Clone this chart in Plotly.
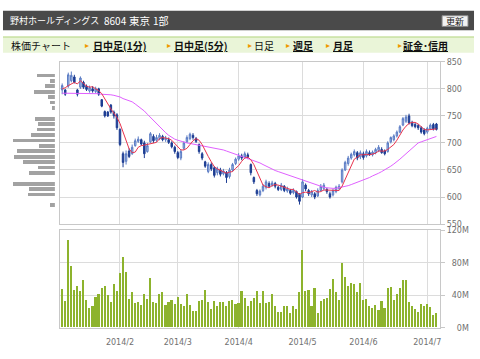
import plotly.graph_objects as go
import pandas as pd

# ---------------- data ----------------
holidays = ["2014-01-13", "2014-02-11", "2014-03-21", "2014-04-29", "2014-05-05", "2014-05-06"]
dates = [d.strftime("%Y-%m-%d") for d in pd.bdate_range("2014-01-06", "2014-07-04")
         if d.strftime("%Y-%m-%d") not in holidays]

opens = [798, 798, 805, 815, 822, 798, 803, 812, 805, 796,
         800, 795, 800, 780, 758, 757, 770, 757, 752, 725,
         680, 666, 685, 680, 695, 703, 706, 700, 684, 702,
         712, 705, 708, 712, 706, 706, 700, 692, 682, 672,
         690, 702, 708, 714, 708, 697, 680, 665, 647, 660,
         654, 645, 650, 643, 645, 638, 650, 662, 670, 676,
         674, 678, 660, 636, 612, 604, 612, 618, 625, 622,
         625, 618, 614, 620, 611, 612, 608, 610, 605, 600,
         622, 612, 604, 606, 602, 612, 616, 614, 606, 604,
         610, 616, 628, 650, 662, 672, 678, 682, 674, 680,
         676, 682, 678, 682, 686, 688, 685, 684, 702, 706,
         713, 720, 733, 740, 750, 738, 734, 732, 728, 724,
         720, 726, 734, 735]
highs = [810, 800, 830, 832, 826, 800, 823, 815, 808, 806,
         805, 804, 802, 781, 760, 759, 772, 760, 755, 727,
         684, 686, 690, 697, 708, 712, 708, 704, 700, 720,
         716, 715, 718, 715, 713, 710, 703, 695, 685, 688,
         703, 714, 719, 718, 711, 699, 683, 667, 664, 664,
         657, 656, 654, 652, 648, 654, 663, 673, 681, 680,
         684, 682, 662, 638, 615, 614, 624, 632, 629, 630,
         628, 621, 626, 622, 619, 615, 616, 612, 607, 633,
         625, 615, 613, 609, 616, 624, 626, 617, 610, 615,
         621, 624, 653, 667, 676, 682, 688, 685, 686, 684,
         688, 686, 686, 691, 696, 692, 688, 703, 712, 716,
         723, 733, 748, 752, 754, 741, 738, 735, 731, 727,
         730, 736, 737, 737]
lows = [790, 787, 802, 812, 810, 786, 800, 800, 796, 793,
        793, 792, 787, 766, 747, 748, 754, 745, 724, 694,
        655, 660, 672, 678, 693, 700, 695, 672, 682, 700,
        700, 702, 705, 703, 702, 698, 690, 680, 670, 668,
        687, 700, 705, 706, 700, 680, 668, 654, 644, 648,
        636, 640, 638, 640, 626, 634, 647, 659, 667, 668,
        671, 670, 640, 624, 602, 601, 609, 614, 617, 619,
        616, 611, 611, 609, 608, 604, 605, 597, 586, 598,
        611, 602, 600, 596, 600, 610, 612, 606, 597, 601,
        607, 613, 625, 648, 658, 669, 675, 668, 670, 669,
        673, 676, 675, 679, 683, 680, 677, 682, 699, 703,
        710, 718, 731, 737, 734, 729, 727, 724, 717, 714,
        717, 724, 723, 723]
closes = [806, 790, 826, 825, 812, 790, 820, 803, 799, 802,
          796, 800, 790, 768, 750, 750, 757, 750, 728, 697,
          664, 680, 675, 692, 704, 707, 698, 680, 695, 717,
          704, 710, 714, 706, 709, 701, 693, 684, 673, 684,
          700, 710, 716, 710, 703, 684, 672, 657, 660, 652,
          640, 652, 642, 648, 636, 650, 660, 670, 676, 672,
          680, 674, 645, 628, 606, 611, 620, 628, 620, 626,
          620, 614, 622, 612, 615, 607, 612, 600, 592, 628,
          615, 606, 610, 600, 612, 620, 622, 610, 600, 612,
          618, 620, 650, 664, 672, 679, 684, 672, 682, 673,
          684, 678, 683, 688, 692, 682, 680, 700, 710, 713,
          720, 730, 745, 748, 737, 732, 730, 728, 720, 717,
          727, 733, 726, 725]

ma5 = [800, 802, 806, 809, 812, 809, 815, 810, 805, 803,
       804, 800, 797, 791, 781, 772, 763, 755, 747, 736,
       719, 704, 689, 682, 683, 692, 695, 696, 697, 699,
       699, 701, 708, 710, 709, 708, 705, 699, 692, 687,
       687, 690, 697, 704, 708, 705, 697, 685, 675, 665,
       656, 652, 649, 647, 644, 646, 647, 653, 658, 666,
       672, 674, 669, 660, 647, 633, 622, 619, 617, 621,
       623, 622, 620, 619, 617, 614, 614, 609, 605, 608,
       609, 608, 610, 612, 609, 610, 613, 613, 613, 613,
       612, 612, 620, 633, 645, 657, 670, 674, 678, 678,
       679, 678, 680, 681, 685, 685, 685, 688, 693, 697,
       705, 715, 724, 731, 736, 738, 738, 735, 729, 725,
       724, 725, 725, 726]
ma25 = [792, 792, 792, 792, 792, 792, 792, 792, 792, 792,
        792, 791, 791, 790, 790, 789, 789, 788, 787, 785,
        782, 780, 778, 776, 772, 768, 764, 759, 753, 747,
        741, 735, 729, 724, 719, 714, 710, 707, 705, 703,
        701, 700, 699, 698, 697, 696, 695, 694, 693, 692,
        690, 689, 688, 687, 685, 683, 681, 679, 677, 675,
        673, 671, 669, 668, 666, 663, 660, 657, 654, 651,
        649, 647, 645, 643, 641, 639, 637, 635, 633, 631,
        629, 627, 625, 623, 621, 619, 618, 617, 616, 616,
        616, 617, 618, 619, 621, 623, 625, 627, 629, 631,
        633, 636, 639, 641, 644, 647, 650, 653, 657, 661,
        665, 670, 675, 680, 686, 691, 696, 700, 702, 704,
        706, 708, 710, 712]

volumes = [47.6, 32.4, 108, 75.6, 45.6, 50.8, 45.2, 58.4, 34.4, 24.4,
           26, 37.6, 40.8, 48.4, 50.8, 40.4, 31.2, 53.6, 45.2, 66.8,
           87.2, 68, 35.6, 43.6, 30, 30.8, 27.6, 40.8, 35.6, 60.8,
           30.8, 30, 41.6, 43.2, 27.6, 31.2, 34.4, 28.8, 37.6, 28.4,
           26.8, 41.6, 27.6, 20.8, 20.8, 33.2, 34.4, 46.4, 31.2, 22.4,
           32.4, 26.8, 30.8, 30.8, 26.8, 32, 34.4, 28.4, 29.6, 45.2,
           36, 26, 32, 36.8, 45.2, 30, 45.2, 30, 30.8, 40.8,
           26.8, 18.8, 19.6, 26, 26, 18, 26.8, 23.2, 43.2, 95.6,
           45.2, 46, 26, 49.2, 18, 33.2, 35.6, 36.8, 47.6, 59.2,
           43.2, 34.4, 80, 62.4, 50.8, 54.8, 54, 43.2, 54.8, 34.4,
           35.2, 26, 24.4, 27.6, 21.6, 32.8, 23.6, 48.8, 50, 34.4,
           40.8, 48.4, 58.4, 58.4, 31.2, 26.8, 23.2, 19.2, 28.4, 26.8,
           28.4, 25.2, 15.2, 17.6]

# volume by price (price band centre, volume in M shares)
price_bins = [825, 815, 805, 795, 785, 775, 765, 755, 745, 735, 725, 715, 705,
              695, 685, 675, 665, 655, 645, 635, 625, 615, 605, 595, 585]
price_volume = [194, 50, 109, 226, 77, 50, 32, 0, 215, 180, 188, 254, 445,
                173, 406, 435, 342, 180, 276, 0, 445, 276, 283, 0, 50]

month_ticks = ["2014-02-03", "2014-03-03", "2014-04-01", "2014-05-01", "2014-06-02", "2014-07-01"]
month_labels = ["2014/2", "2014/3", "2014/4", "2014/5", "2014/6", "2014/7"]
price_ticks = [550, 600, 650, 700, 750, 800, 850]
vol_ticks = [0, 40, 80, 120]
vol_labels = ["\u2007\u20070M", "\u200740M", "\u200780M", "120M"]

title_parts = ["野村ホールディングス", "8604", "東京", "1部"]

# ---------------- figure ----------------
W, H = 480, 359
def X(px): return px / W
def Y(py): return 1 - py / H

fig = go.Figure()
fig.add_trace(go.Candlestick(
    x=dates, open=opens, high=highs, low=lows, close=closes,
    increasing=dict(line=dict(color="#5b7cc4", width=1), fillcolor="#a9bde7"),
    decreasing=dict(line=dict(color="#1d3d93", width=1), fillcolor="#1d3d93"),
    whiskerwidth=0, xaxis="x", yaxis="y", hoverinfo="skip", showlegend=False))
fig.add_trace(go.Scatter(x=dates, y=ma25, mode="lines", line=dict(color="#e060ff", width=1),
                         xaxis="x", yaxis="y", hoverinfo="skip", showlegend=False))
fig.add_trace(go.Scatter(x=dates, y=ma5, mode="lines", line=dict(color="#e8344e", width=1),
                         xaxis="x", yaxis="y", hoverinfo="skip", showlegend=False))
fig.add_trace(go.Bar(x=dates, y=volumes, width=0.7, marker=dict(color="#8db32d", line=dict(width=0)),
                     xaxis="x2", yaxis="y2", hoverinfo="skip", showlegend=False))
fig.add_trace(go.Bar(y=price_bins, x=price_volume, orientation="h", width=7,
                     marker=dict(color="#a2a2a2", line=dict(width=0)),
                     xaxis="x3", yaxis="y3", hoverinfo="skip", showlegend=False))

grid = "#dcdcdc"
border = "#c8c8c8"
tickfont = dict(family="DejaVu Sans", size=8, color="#707070")
xdom = [X(60.3), X(441)]
pdom = [Y(225.7), Y(59.3)]
vdom = [Y(332.3), Y(232.3)]
xrange = [-0.66, 124.2]

fig.update_layout(
    width=W, height=H, margin=dict(l=0, r=0, t=0, b=0),
    paper_bgcolor="white", plot_bgcolor="white", showlegend=False,
    bargap=0, hovermode=False,
    xaxis=dict(domain=xdom, anchor="y", type="category", range=xrange, tickvals=month_ticks,
               showticklabels=False, showgrid=True, gridcolor=grid, gridwidth=1,
               showline=True, linecolor=border, mirror=True, ticks="",
               rangeslider=dict(visible=False), fixedrange=True),
    xaxis2=dict(domain=xdom, anchor="y2", type="category", range=xrange, tickvals=month_ticks,
                ticktext=month_labels, tickfont=tickfont, showgrid=True, gridcolor=grid,
                showline=True, linecolor=border, mirror=True, ticks="outside", ticklen=6,
                tickcolor="white", fixedrange=True),
    yaxis=dict(domain=pdom, anchor="x", range=[550, 850], side="right", tickvals=price_ticks,
               tickfont=tickfont, showgrid=True, gridcolor=grid, showline=True, linecolor=border,
               mirror=True, ticks="outside", ticklen=4, tickcolor=border, zeroline=False),
    yaxis2=dict(domain=vdom, anchor="x2", range=[0, 120], side="right", tickvals=vol_ticks,
                ticktext=vol_labels, tickfont=tickfont, showgrid=True, gridcolor=grid,
                showline=True, linecolor=border, mirror=True, ticks="outside", ticklen=4,
                tickcolor=border, zeroline=False),
    xaxis3=dict(domain=[X(13), X(55)], anchor="y3", range=[445, 0], visible=False),
    yaxis3=dict(domain=pdom, anchor="x3", range=[550, 850], visible=False),
)

cjk = "Noto Sans CJK JP"
shapes = [
    dict(type="rect", xref="paper", yref="paper", x0=X(3), x1=X(475), y0=Y(27), y1=Y(7),
         fillcolor="#4a4a4a", line=dict(width=0), layer="below"),
    dict(type="rect", xref="paper", yref="paper", x0=X(443), x1=X(469), y0=Y(23), y1=Y(12),
         fillcolor="#f2f2f2", line=dict(color="#8a8a8a", width=1)),
    dict(type="rect", xref="paper", yref="paper", x0=X(3), x1=X(475), y0=Y(50), y1=Y(33),
         fillcolor="#eaf5d8", line=dict(width=0), layer="below"),
    dict(type="rect", xref="paper", yref="paper", x0=X(3), x1=X(475), y0=Y(35), y1=Y(33),
         fillcolor="#cfe5ad", line=dict(width=0), layer="below"),
]
fig.update_layout(shapes=shapes)

white = "white"
ann = [
    dict(x=X(8), y=Y(17), text=title_parts[0], xanchor="left",
         font=dict(family=cjk, size=9, color=white)),
    dict(x=X(102), y=Y(17), text=title_parts[1], xanchor="left",
         font=dict(family=cjk, size=10, color=white)),
    dict(x=X(127), y=Y(17), text=title_parts[2], xanchor="left",
         font=dict(family=cjk, size=10.5, color=white)),
    dict(x=X(151), y=Y(17), text=title_parts[3], xanchor="left",
         font=dict(family=cjk, size=10, color=white)),
    dict(x=X(456), y=Y(17.5), text="更新", xanchor="center",
         font=dict(family=cjk, size=9, color="#222")),
    dict(x=X(9), y=Y(43), text="株価チャート", xanchor="left",
         font=dict(family=cjk, size=10, color="#111")),
]
tabs = [(83, 91, "日中足(1分)", True), (165, 172, "日中足(5分)", True), (247, 253, "日足", False),
        (285, 292, "週足", True), (325, 332, "月足", True), (397, 402, "証金･信用", True)]
for tx, lx, label, link in tabs:
    ann.append(dict(x=X(tx), y=Y(43), text="▸", xanchor="left",
                    font=dict(family="DejaVu Sans", size=8, color="#f09a00")))
    txt = f"<b><u>{label}</u></b>" if link else label
    ann.append(dict(x=X(lx), y=Y(43), text=txt, xanchor="left",
                    font=dict(family=cjk, size=10, color="#111")))
for a in ann:
    a.update(xref="paper", yref="paper", yanchor="middle", showarrow=False)
fig.update_layout(annotations=ann)

fig.write_html("out.html", config={"displayModeBar": False},
               post_script="document.body.style.margin='0';document.body.style.overflow='hidden';")
